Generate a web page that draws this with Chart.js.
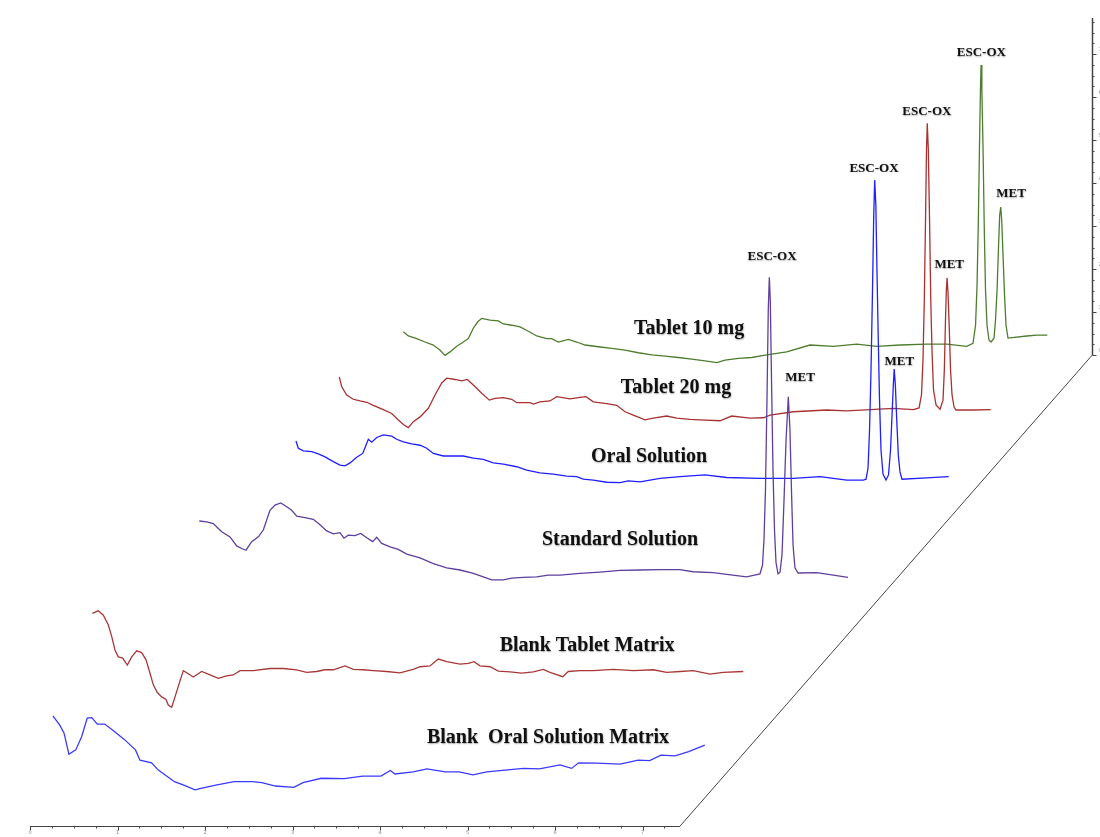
<!DOCTYPE html>
<html>
<head>
<meta charset="utf-8">
<title>Chromatogram overlay</title>
<script src="https://cdn.jsdelivr.net/npm/chart.js@4/dist/chart.umd.min.js"></script>
<style>
  body { margin: 0; background: #fff; }
  #wrap { width: 1100px; height: 837px; }
</style>
</head>
<body>
<div id="wrap"><canvas id="chart"></canvas></div>
<script>
// samples, front to back
const sampleNames = ['Blank  Oral Solution Matrix', 'Blank Tablet Matrix', 'Standard Solution',
  'Oral Solution', 'Tablet 20 mg', 'Tablet 10 mg'];
const sampleDepth = [0, 0.0971, 0.3592, 0.5922, 0.6990, 0.8544];
const traceColors = ['#3a3aff', '#a83838', '#5e3f9e', '#1f1fff', '#a83232', '#4e7d2e'];

// [time (min), signal (mAU)] for each run
const blankOralMatrix = [[0.261,25.6],[0.339,23.5],[0.389,21.6],[0.445,16.7],[0.523,17.7],[0.591,20.8],
  [0.654,25.1],[0.706,25.2],[0.769,23.7],[0.854,23.7],[0.943,22.3],[1.074,20.2],[1.205,17.7],[1.257,15.3],
  [1.389,14.7],[1.467,13.0],[1.651,10.3],[1.757,9.5],[1.886,8.4],[1.966,8.8],[2.123,9.5],[2.331,10.3],
  [2.543,10.3],[2.648,10.1],[2.806,9.3],[3.015,9.0],[3.12,10.1],[3.33,11.1],[3.592,11.0],[3.802,11.6],
  [4.011,11.6],[4.118,12.9],[4.17,12.1],[4.379,12.6],[4.537,13.3],[4.747,12.6],[4.903,12.6],[5.063,11.9],
  [5.219,12.6],[5.429,13.0],[5.639,13.4],[5.823,13.3],[6.057,14.2],[6.19,13.4],[6.269,14.7],[6.48,14.6],
  [6.743,14.4],[6.951,15.3],[7.082,15.2],[7.211,16.5],[7.371,16.3],[7.528,17.3],[7.712,18.8]];

const blankTabletMatrix = [[0.255,38.8],[0.323,39.4],[0.381,38.4],[0.438,36.1],[0.477,33.4],[0.514,30.3],
  [0.552,28.7],[0.602,28.4],[0.655,26.8],[0.705,28.7],[0.762,30.1],[0.819,29.7],[0.869,28.0],[0.914,24.9],
  [0.952,22.2],[0.998,20.4],[1.048,19.4],[1.097,18.8],[1.123,17.5],[1.162,17.0],[1.2,19.4],[1.249,22.6],
  [1.295,25.5],[1.334,25.0],[1.409,24.0],[1.505,25.3],[1.6,24.5],[1.695,23.7],[1.791,24.3],[1.866,24.5],
  [1.943,25.5],[2.095,25.5],[2.286,26.0],[2.438,26.0],[2.591,25.7],[2.705,25.1],[2.819,25.3],[2.914,25.7],
  [3.009,25.7],[3.143,26.6],[3.238,25.8],[3.352,25.7],[3.466,25.5],[3.619,25.3],[3.771,25.0],[3.923,25.8],
  [4.0,26.4],[4.114,26.6],[4.209,28.2],[4.305,27.6],[4.457,27.0],[4.552,27.2],[4.617,27.6],[4.686,26.6],
  [4.8,26.4],[4.895,25.4],[5.029,25.2],[5.162,24.9],[5.295,25.2],[5.409,25.8],[5.486,25.1],[5.631,24.1],
  [5.695,25.3],[5.829,25.5],[5.981,25.5],[6.209,25.8],[6.438,25.5],[6.666,25.7],[6.819,25.1],[6.971,25.3],
  [7.123,25.5],[7.314,24.7],[7.463,25.1],[7.695,25.3]];

const standardSolution = [[0.243,31.6],[0.328,31.4],[0.403,31.0],[0.499,29.1],[0.594,27.9],[0.671,25.8],
  [0.728,25.2],[0.777,24.8],[0.842,26.8],[0.918,27.9],[0.975,29.5],[1.051,34.1],[1.109,35.3],[1.174,35.8],
  [1.242,34.9],[1.299,34.1],[1.357,32.7],[1.451,32.4],[1.546,32.0],[1.623,30.7],[1.699,29.3],[1.775,28.6],
  [1.851,28.9],[1.897,27.6],[1.946,28.3],[2.023,28.2],[2.088,28.7],[2.157,27.7],[2.225,26.8],[2.271,27.8],
  [2.328,26.4],[2.423,25.6],[2.518,25.0],[2.614,23.9],[2.766,23.0],[2.918,21.7],[3.071,20.7],[3.223,20.2],
  [3.375,19.4],[3.489,18.6],[3.585,17.9],[3.718,17.9],[3.814,18.3],[3.946,18.5],[4.099,18.6],[4.232,19.0],
  [4.366,19.0],[4.594,19.4],[4.823,19.7],[5.051,20.1],[5.28,20.2],[5.509,20.3],[5.737,20.3],[5.886,19.8],
  [6.114,19.6],[6.271,19.2],[6.499,18.6],[6.651,19.3],[6.68,21.3],[6.697,27.2],[6.714,38.8],[6.731,59.7],
  [6.746,80.7],[6.758,88.3],[6.769,83.0],[6.783,64.4],[6.8,43.4],[6.817,29.5],[6.834,22.0],[6.857,19.3],
  [6.88,19.7],[6.903,23.7],[6.926,36.5],[6.949,50.4],[6.975,60.5],[6.994,52.7],[7.011,38.8],[7.029,26.0],
  [7.051,20.7],[7.086,19.5],[7.299,19.6],[7.489,19.0],[7.657,18.5]];

const oralSolution = [[0.251,24.7],[0.278,23.0],[0.335,22.4],[0.431,22.2],[0.506,21.7],[0.583,21.0],
  [0.678,19.9],[0.754,19.1],[0.811,18.9],[0.869,19.6],[0.945,20.9],[1.014,21.8],[1.051,23.7],[1.078,25.1],
  [1.117,24.4],[1.174,25.5],[1.249,26.1],[1.345,25.8],[1.402,25.1],[1.478,24.5],[1.574,24.0],[1.669,23.7],
  [1.745,23.0],[1.821,21.8],[1.935,21.2],[2.049,21.2],[2.163,21.2],[2.278,20.7],[2.392,20.4],[2.506,19.6],
  [2.621,19.3],[2.774,18.7],[2.888,17.9],[3.039,17.3],[3.191,17.0],[3.345,16.5],[3.459,16.4],[3.535,15.8],
  [3.649,15.6],[3.802,15.1],[3.954,15.0],[4.049,15.4],[4.183,15.2],[4.411,16.0],[4.64,16.4],[4.926,16.8],
  [5.174,16.2],[5.554,16.0],[5.935,16.0],[6.24,16.4],[6.545,15.6],[6.735,15.6],[6.766,15.8],[6.789,18.4],
  [6.806,27.2],[6.823,41.2],[6.84,59.8],[6.854,77.2],[6.865,85.4],[6.878,79.6],[6.891,64.4],[6.906,48.2],
  [6.92,34.2],[6.937,22.6],[6.96,17.0],[6.994,15.6],[7.023,16.8],[7.046,22.6],[7.063,30.7],[7.078,37.7],
  [7.088,41.4],[7.101,37.7],[7.117,29.6],[7.135,21.4],[7.154,17.5],[7.177,15.8],[7.459,16.1],[7.711,16.4]];

const tablet20 = [[0.243,27.9],[0.271,25.6],[0.328,23.7],[0.403,22.7],[0.48,22.3],[0.557,22.0],
  [0.632,21.3],[0.746,20.3],[0.842,19.4],[0.918,17.9],[0.983,16.7],[1.032,16.1],[1.089,17.5],[1.166,18.6],
  [1.261,20.6],[1.337,23.7],[1.414,26.5],[1.471,27.6],[1.566,27.3],[1.642,27.0],[1.706,27.3],[1.775,26.0],
  [1.871,24.1],[1.958,22.5],[2.023,22.9],[2.118,23.1],[2.214,22.7],[2.271,21.9],[2.423,21.9],[2.461,21.6],
  [2.537,22.1],[2.651,22.3],[2.728,23.3],[2.88,22.8],[2.975,23.1],[3.063,23.3],[3.146,22.1],[3.299,21.7],
  [3.414,21.3],[3.509,19.8],[3.603,19.0],[3.737,17.9],[3.832,18.3],[3.985,18.8],[4.099,18.3],[4.251,18.0],
  [4.366,17.9],[4.594,17.7],[4.728,18.8],[4.937,18.3],[5.089,18.4],[5.166,19.0],[5.432,19.8],[5.814,20.2],
  [6.042,20.0],[6.309,20.3],[6.575,20.6],[6.803,20.3],[6.869,20.7],[6.897,23.7],[6.914,31.8],[6.929,45.8],
  [6.943,64.4],[6.954,80.7],[6.963,86.9],[6.975,80.7],[6.989,64.4],[7.003,45.8],[7.017,34.1],[7.034,24.9],
  [7.063,21.4],[7.109,20.4],[7.143,22.5],[7.158,29.5],[7.171,41.1],[7.181,48.1],[7.189,50.9],[7.2,47.6],
  [7.215,38.8],[7.229,29.5],[7.246,23.7],[7.269,20.9],[7.291,20.2],[7.489,20.2],[7.688,20.3]];

const tablet10 = [[0.243,21.4],[0.301,20.4],[0.397,19.8],[0.491,19.0],[0.586,18.3],[0.663,17.1],
  [0.72,15.9],[0.777,16.7],[0.854,18.0],[0.929,19.0],[0.986,19.8],[1.043,22.2],[1.094,23.7],[1.139,24.5],
  [1.234,24.1],[1.329,23.9],[1.386,23.2],[1.482,22.9],[1.577,22.5],[1.672,21.5],[1.768,20.4],[1.882,19.8],
  [1.939,19.8],[2.015,19.0],[2.129,19.6],[2.225,19.0],[2.32,18.3],[2.472,17.9],[2.625,17.5],[2.777,17.1],
  [2.929,16.5],[3.082,16.0],[3.234,15.7],[3.386,15.4],[3.539,15.0],[3.691,14.6],[3.825,14.2],[3.92,14.8],
  [4.072,15.2],[4.225,15.4],[4.397,16.0],[4.625,16.7],[4.891,18.3],[5.158,18.0],[5.425,18.5],[5.654,18.0],
  [5.92,18.3],[6.225,18.5],[6.454,18.5],[6.682,18.0],[6.754,18.7],[6.783,22.9],[6.8,32.2],[6.815,47.3],
  [6.829,65.9],[6.839,77.6],[6.846,83.4],[6.855,77.6],[6.869,63.6],[6.883,45.0],[6.897,31.0],[6.914,22.9],
  [6.937,19.4],[6.96,19.0],[6.994,19.9],[7.011,24.1],[7.029,31.1],[7.046,41.5],[7.059,48.5],[7.071,50.4],
  [7.082,47.3],[7.097,39.2],[7.114,29.9],[7.131,22.9],[7.154,19.9],[7.368,20.4],[7.482,20.6],[7.603,20.6]];

// sample name anchors and peak names, in each run's own [time, signal]
const nameAnchors = [[5.92,20.5],[5.909,31.2],[5.051,27.2],[4.286,21.0],[4.091,25.3],[3.509,22.0]];
const peakNames = [
  [2,'ESC-OX',6.789,93.0],[2,'MET',7.109,64.9],
  [3,'ESC-OX',6.857,88.1],[3,'MET',7.146,43.1],
  [4,'ESC-OX',6.958,89.5],[4,'MET',7.214,54.0],
  [5,'ESC-OX',6.849,86.2],[5,'MET',7.189,53.4]];

// axis ticks
const timeTicks = [0, 1, 2, 3, 4, 5, 6, 7];
const signalTicks = [0, 10, 20, 30, 40, 50, 60, 70];
const timeEnd = 7.43;
const signalTop = 78.4;

// oblique offset of the back wall
const depthTime = 4.709;
const depthSignal = 109.5;

const runs = [blankOralMatrix, blankTabletMatrix, standardSolution, oralSolution, tablet20, tablet10];

const place = (i, t, v) => ({ x: t + sampleDepth[i] * depthTime, y: v + sampleDepth[i] * depthSignal });

const datasets = runs.map((pts, i) => ({
  label: sampleNames[i],
  data: pts.map(([t, v]) => place(i, t, v)),
  borderColor: traceColors[i],
  borderWidth: 1.3,
  pointRadius: 0,
  showLine: true,
  tension: 0,
  fill: false
}));

const frame3d = {
  id: 'frame3d',
  beforeDatasetsDraw(chart) {
    const { ctx, scales: { x, y } } = chart;
    const P = (t, v) => [x.getPixelForValue(t), y.getPixelForValue(v)];
    ctx.save();
    ctx.strokeStyle = '#444';
    ctx.lineWidth = 1;

    // front time axis
    let [x0, y0] = P(0, 0);
    let [x1] = P(timeEnd, 0);
    y0 = Math.round(y0) + 0.5;
    ctx.beginPath();
    ctx.moveTo(x0, y0); ctx.lineTo(x1, y0);
    for (let t = 0; t <= timeEnd + 1e-6; t += 0.25) {
      const xt = Math.round(P(t, 0)[0]) + 0.5;
      const major = Math.abs(t - Math.round(t)) < 1e-6;
      ctx.moveTo(xt, y0); ctx.lineTo(xt, y0 + (major ? 4 : 2));
    }
    ctx.stroke();
    ctx.fillStyle = '#8a8a8a';
    ctx.font = '5px "DejaVu Sans"';
    ctx.textAlign = 'center';
    ctx.textBaseline = 'top';
    timeTicks.forEach(t => ctx.fillText(String(t), P(t, 0)[0], y0 + 4));

    // depth diagonal
    const [dx0, dy0] = P(timeEnd, 0);
    const [dx1, dy1] = P(timeEnd + depthTime, depthSignal);
    ctx.beginPath();
    ctx.moveTo(dx0, dy0); ctx.lineTo(dx1, dy1);
    ctx.stroke();

    // back signal axis
    const xb = Math.round(dx1) + 0.5;
    const [, yTop] = P(0, depthSignal + signalTop);
    ctx.lineWidth = 1.5;
    ctx.beginPath();
    ctx.moveTo(xb, dy1); ctx.lineTo(xb, yTop);
    ctx.stroke();
    ctx.lineWidth = 1;
    ctx.beginPath();
    for (let v = 0; v <= signalTop; v += 2.5) {
      const yv = Math.round(P(0, depthSignal + v)[1]) + 0.5;
      const major = v % 10 === 0;
      ctx.moveTo(xb, yv); ctx.lineTo(xb + (major ? 4 : 2), yv);
    }
    ctx.stroke();
    ctx.textAlign = 'left';
    ctx.textBaseline = 'middle';
    signalTicks.forEach(v => ctx.fillText(String(v), xb + 6, P(0, depthSignal + v)[1] - 4));
    ctx.restore();
  },
  afterDatasetsDraw(chart) {
    const { ctx, scales: { x, y } } = chart;
    ctx.save();
    ctx.fillStyle = '#111';
    ctx.shadowColor = 'rgba(0,0,0,0.35)';
    ctx.shadowBlur = 1.5;
    ctx.shadowOffsetX = 0.5;
    ctx.shadowOffsetY = 0.5;
    ctx.textAlign = 'center';
    ctx.textBaseline = 'middle';
    ctx.font = 'bold 20px "Liberation Serif"';
    nameAnchors.forEach(([t, v], i) => {
      const p = place(i, t, v);
      ctx.fillText(sampleNames[i], x.getPixelForValue(p.x), y.getPixelForValue(p.y));
    });
    ctx.font = 'bold 13px "Liberation Serif"';
    peakNames.forEach(([i, name, t, v]) => {
      const p = place(i, t, v);
      ctx.fillText(name, x.getPixelForValue(p.x), y.getPixelForValue(p.y));
    });
    ctx.restore();
  }
};

new Chart(document.getElementById('chart'), {
  type: 'scatter',
  data: { datasets },
  options: {
    responsive: true,
    maintainAspectRatio: false,
    animation: false,
    layout: { padding: 0 },
    plugins: { legend: { display: false }, tooltip: { enabled: false } },
    scales: {
      x: { type: 'linear', display: false, min: -0.3429, max: 12.2286 },
      y: { type: 'linear', display: false, min: -2.558, max: 192.093 }
    }
  },
  plugins: [frame3d]
});
</script>
</body>
</html>
